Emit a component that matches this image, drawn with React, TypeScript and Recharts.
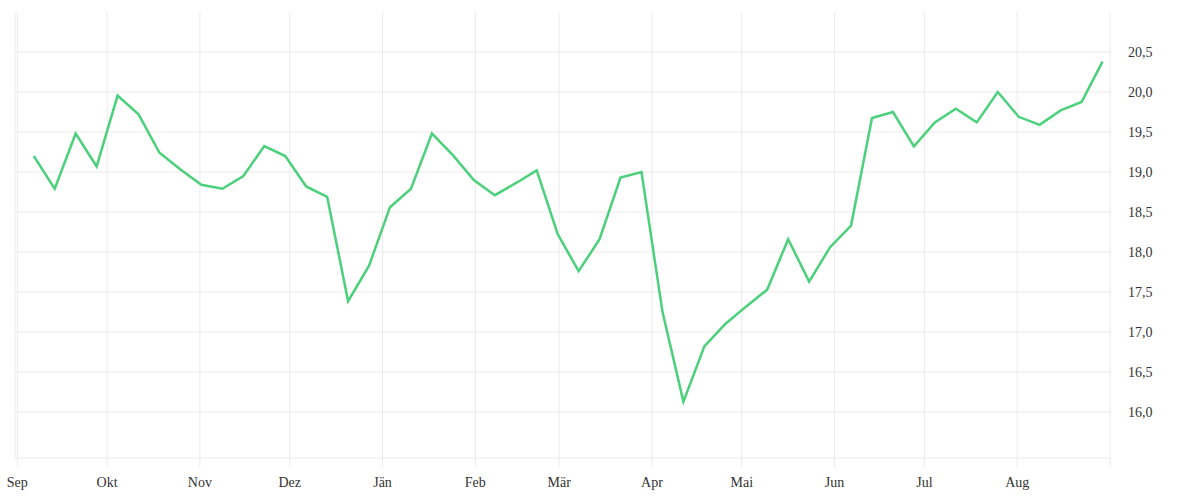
import { CartesianGrid, Line, LineChart, ReferenceLine, XAxis, YAxis } from "recharts";

// weekly closing values, Sep → Aug
const values = [
  19.2, 18.79, 19.48, 19.07, 19.955, 19.72, 19.24, 19.03, 18.84, 18.79,
  18.95, 19.325, 19.2, 18.82, 18.69, 17.385, 17.83, 18.56, 18.79, 19.48,
  19.21, 18.9, 18.71, 18.86, 19.02, 18.225, 17.76, 18.16, 18.93, 19.0,
  17.255, 16.13, 16.82, 17.1, 17.32, 17.53, 18.16, 17.63, 18.06, 18.33,
  19.675, 19.75, 19.32, 19.62, 19.79, 19.62, 20.0, 19.69, 19.59, 19.77,
  19.875, 20.38,
];

// days since 1 Sep of the first weekly point, and the week length
const firstDay = 5.5;
const weekDays = 7;

const monthStarts = [0, 30, 61, 91, 122, 153, 181, 212, 242, 273, 303, 334, 365];
const monthLabels = ["Sep", "Okt", "Nov", "Dez", "Jän", "Feb", "Mär", "Apr", "Mai", "Jun", "Jul", "Aug", ""];

const yTicks = [16, 16.5, 17, 17.5, 18, 18.5, 19, 19.5, 20, 20.5];

const data = values.map((v, i) => ({ day: firstDay + i * weekDays, value: v }));

const gridColor = "#ebebeb";
const tickStyle = { fill: "#333", fontSize: 14, fontFamily: "'Liberation Serif', serif" };

export default function App() {
  return (
    <div style={{ position: "absolute", left: 0, top: 0, width: 1200, height: 500, background: "#fff" }}>
      <LineChart width={1200} height={500} data={data} margin={{ top: 12, right: 0, bottom: 0, left: 15 }}>
        <CartesianGrid stroke={gridColor} strokeWidth={1} horizontal={false} />
        {yTicks.map((t) => (
          <ReferenceLine key={t} y={t} stroke={gridColor} strokeWidth={1} />
        ))}
        <XAxis
          dataKey="day"
          type="number"
          domain={[-0.77, 365]}
          ticks={monthStarts}
          tickFormatter={(d: number) => monthLabels[monthStarts.indexOf(d)] ?? ""}
          height={42}
          tick={tickStyle}
          tickSize={9}
          tickMargin={10}
          tickLine={{ stroke: gridColor }}
          axisLine={{ stroke: gridColor }}
          interval={0}
        />
        <YAxis
          orientation="right"
          type="number"
          domain={[15.425, 21]}
          ticks={yTicks}
          width={90}
          tick={{ ...tickStyle, textAnchor: "start" }}
          tickFormatter={(v: number) => v.toFixed(1).replace(".", ",")}
          tickLine={false}
          axisLine={false}
          tickMargin={12}
          interval={0}
        />
        <Line
          type="linear"
          dataKey="value"
          stroke="#4bd07b"
          strokeWidth={2.5}
          dot={false}
          isAnimationActive={false}
        />
      </LineChart>
    </div>
  );
}
